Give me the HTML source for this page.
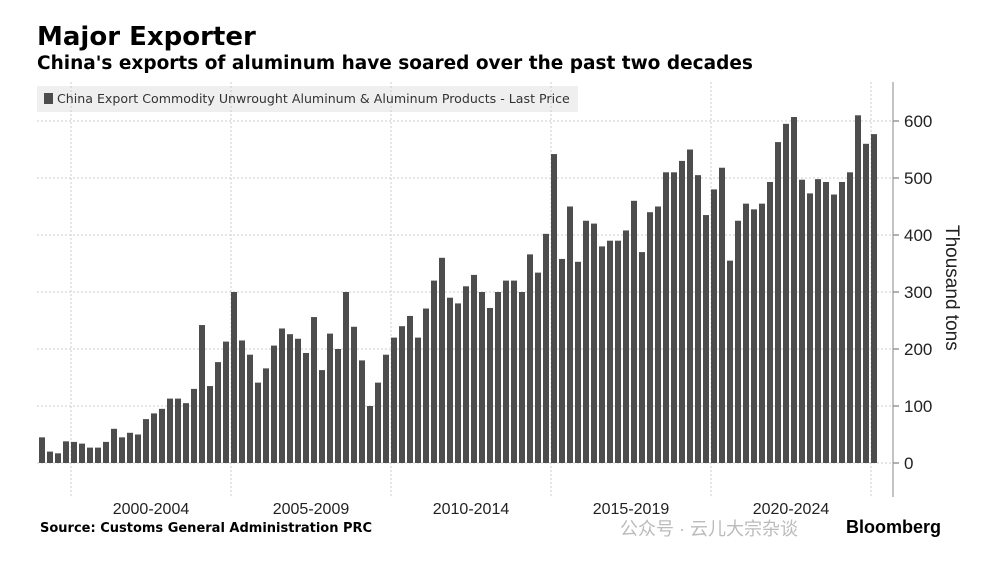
<!DOCTYPE html>
<html><head><meta charset="utf-8"><style>
body{margin:0;width:995px;height:564px;background:#fff;font-family:"Liberation Sans","Noto Sans CJK SC",sans-serif;overflow:hidden;position:relative}
.t{position:absolute;white-space:nowrap}
.d{font-family:"DejaVu Sans","Noto Sans CJK SC",sans-serif}
</style></head><body>
<div class="t d" style="left:37px;top:22px;font-size:26px;font-weight:bold;color:#000">Major Exporter</div>
<div class="t d" style="left:37px;top:53px;font-size:18.5px;font-weight:bold;color:#000">China's exports of aluminum have soared over the past two decades</div>
<div class="t" style="left:37px;top:86px;width:541px;height:26px;background:#efefef"></div>
<div class="t" style="left:44px;top:93px;width:9px;height:11px;background:#4d4d4d"></div>
<div class="t d" style="left:57px;top:91px;font-size:12.6px;color:#333">China Export Commodity Unwrought Aluminum &amp; Aluminum Products - Last Price</div>
<svg id="c" width="995" height="564" style="position:absolute;left:0;top:0"></svg>
<div class="t" style="left:962px;top:225px;font-size:19px;color:#222;transform-origin:0 0;transform:rotate(90deg)">Thousand tons</div>
<div class="t d" style="left:40px;top:521px;font-size:13px;font-weight:bold;color:#000">Source: Customs General Administration PRC</div>
<div class="t" style="left:620px;top:515px;font-size:18px;color:#bbb">公众号 · 云儿大宗杂谈</div>
<div class="t" style="left:846px;top:517px;font-size:18px;font-weight:bold;color:#000">Bloomberg</div>
<script>
const values=[45,20,17,38,37,34,27,27,37,60,45,53,50,77,87,95,113,113,105,130,242,135,177,213,300,215,190,141,166,206,236,226,218,193,256,163,227,200,300,239,180,100,141,190,220,240,258,220,271,320,360,290,280,310,330,300,272,300,320,320,300,366,334,402,542,358,450,353,425,420,380,390,390,408,460,370,440,450,510,510,530,550,505,435,480,518,355,425,455,445,455,493,563,595,607,497,473,498,493,471,493,510,610,560,577];
const yTicks=[0,100,200,300,400,500,600];
const xLabels=["2000-2004","2005-2009","2010-2014","2015-2019","2020-2024"];
const startYear=1999;
const svg=document.getElementById('c');const NS='http://www.w3.org/2000/svg';
const y=v=>463-v*0.57;
const x=i=>39+i*8;
const yearX=yr=>39+(yr-startYear)*32;
function mk(t,a){const e=document.createElementNS(NS,t);for(const k in a)e.setAttribute(k,a[k]);svg.appendChild(e);return e;}
yTicks.forEach(v=>{
 const g=mk('line',{x1:37,x2:893,y1:y(v),y2:y(v),stroke:'#ccc','stroke-dasharray':'2,2'});
 
 
 const tk=mk('line',{x1:893,x2:899,y1:y(v),y2:y(v),stroke:'#666'});
 
 
 const t=mk('text',{x:904,y:y(v)+6,'font-size':17,fill:'#222','font-family':'Liberation Sans'});t.textContent=v;
 
 
});
[2000,2005,2010,2015,2020,2025].forEach(yr=>{
 const g=mk('line',{x1:yearX(yr),x2:yearX(yr),y1:82,y2:497,stroke:'#ccc','stroke-dasharray':'2,2'});
 
 
});
xLabels.forEach((l,i)=>{
 const t=mk('text',{x:(yearX(2000+i*5)+yearX(2005+i*5))/2,y:514,'font-size':16,fill:'#222','text-anchor':'middle','font-family':'Liberation Sans'});t.textContent=l;
 
 
});
const ax=mk('line',{x1:893,x2:893,y1:82,y2:497,stroke:'#888'});


values.forEach((v,i)=>{
 const b=mk('rect',{x:x(i),y:y(v),width:6,height:463-y(v),fill:'#4d4d4d'});
 
 
});
</script>
</body></html>
